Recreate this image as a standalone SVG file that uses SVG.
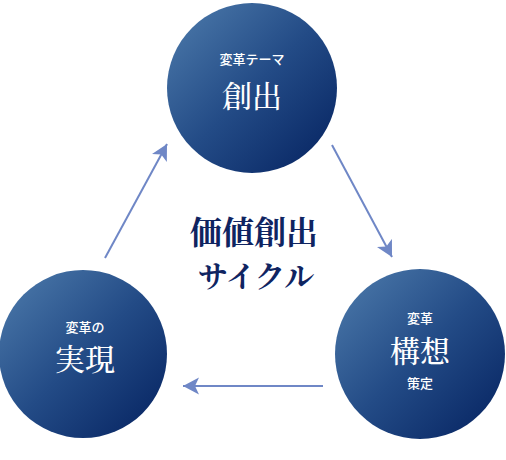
<svg xmlns="http://www.w3.org/2000/svg" width="506" height="460" viewBox="0 0 506 460">
<defs>
<linearGradient id="g" x1="0" y1="0" x2="1" y2="1">
<stop offset="0" stop-color="#4f7dad"/>
<stop offset="0.5" stop-color="#234b86"/>
<stop offset="1" stop-color="#04215f"/>
</linearGradient>
<marker id="ah" markerUnits="userSpaceOnUse" markerWidth="18" markerHeight="18" viewBox="0 -9 17 18" refX="16" refY="0" orient="auto">
<path d="M0,-8.5 L16,0 L0,8.5 L4,0 z" fill="#6f87c6"/>
</marker>
<style>
.c{fill:url(#g)}
.s{font-family:"Noto Sans CJK JP","Noto Sans",sans-serif;font-size:13px;font-weight:500;fill:#fff;text-anchor:middle}
.b{font-family:"Noto Serif CJK JP","Noto Sans CJK JP",serif;font-size:30px;font-weight:500;fill:#fff;text-anchor:middle}
.m{font-family:"Noto Serif CJK JP","Noto Sans CJK JP",serif;font-weight:700;fill:#0f2461;text-anchor:middle}
.a{stroke:#6f87c6;stroke-width:2;fill:none;marker-end:url(#ah)}
</style>
</defs>
<g id="connectors">
<line class="a" x1="105" y1="258" x2="167" y2="144"/>
<line class="a" x1="332" y1="145" x2="392" y2="257"/>
<line class="a" x1="323" y1="386" x2="183" y2="386"/>
</g>
<g id="node-create">
<circle class="c" cx="252" cy="88" r="85"/>
<text class="s" x="252" y="64">変革テーマ</text>
<text class="b" x="252" y="107">創出</text>
</g>
<g id="node-plan">
<circle class="c" cx="420" cy="354" r="85"/>
<text class="s" x="420" y="323">変革</text>
<text class="b" x="420" y="362">構想</text>
<text class="s" x="420" y="388">策定</text>
</g>
<g id="node-realize">
<circle class="c" cx="83" cy="354" r="84"/>
<text class="s" x="85" y="332">変革の</text>
<text class="b" x="85" y="370">実現</text>
</g>
<g id="center">
<text class="m" x="254" y="244" font-size="32">価値創出</text>
<text class="m" x="256" y="287" font-size="30">サイクル</text>
</g>
</svg>
